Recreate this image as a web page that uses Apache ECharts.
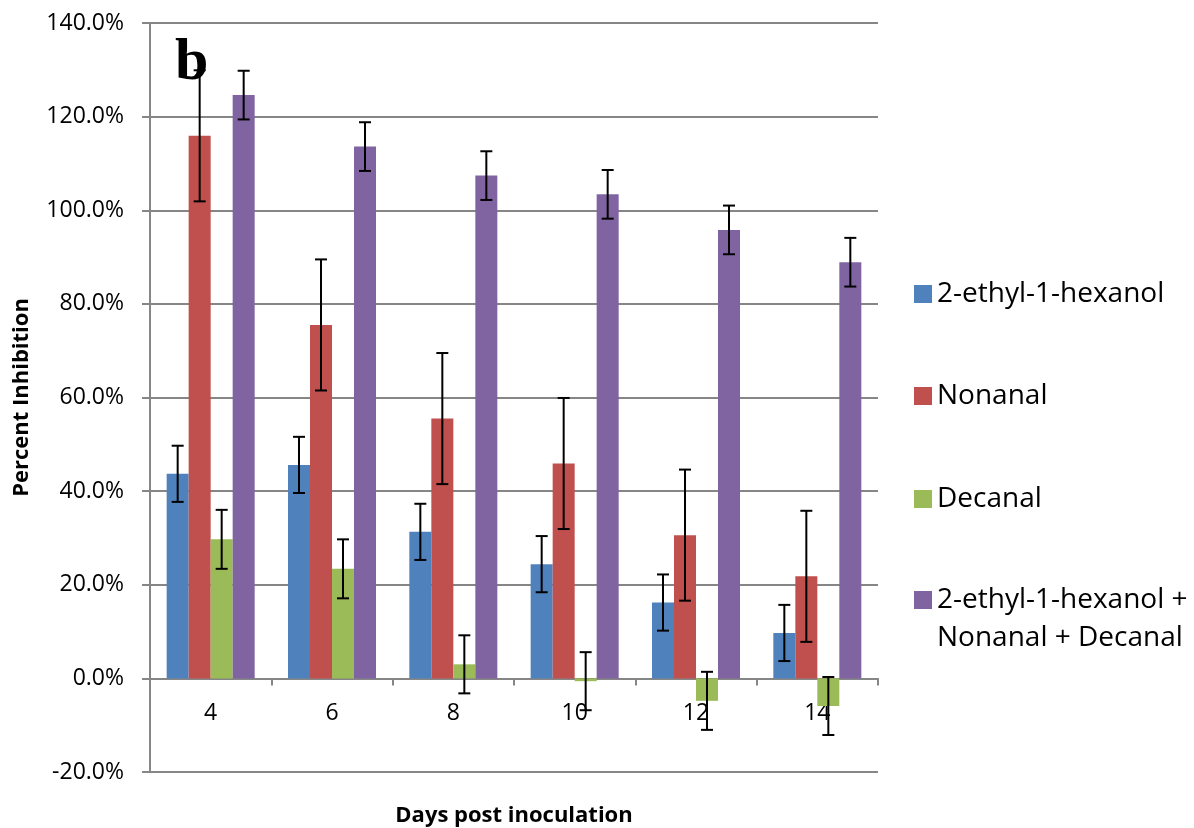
<!DOCTYPE html>
<html>
<head>
<meta charset="utf-8">
<script src="https://cdn.jsdelivr.net/npm/echarts@6/dist/echarts.min.js"></script>
<style>html,body{margin:0;padding:0;background:#fff;}#c{width:1194px;height:828px;}</style>
</head>
<body>
<div id="c"></div>
<script>
var categories = ['4', '6', '8', '10', '12', '14'];
var seriesNames = ['2-ethyl-1-hexanol', 'Nonanal', 'Decanal', '2-ethyl-1-hexanol +\nNonanal + Decanal'];
var hexanol = [43.7, 45.6, 31.3, 24.4, 16.2, 9.7];
var hexanolErr = [6.0, 6.0, 6.0, 6.0, 6.0, 6.0];
var nonanal = [115.9, 75.5, 55.5, 45.9, 30.6, 21.8];
var nonanalErr = [14.0, 14.0, 14.0, 14.0, 14.0, 14.0];
var decanal = [29.7, 23.4, 3.0, -0.6, -4.8, -5.9];
var decanalErr = [6.3, 6.3, 6.2, 6.2, 6.2, 6.2];
var combo = [124.6, 113.6, 107.4, 103.4, 95.8, 88.9];
var comboErr = [5.2, 5.2, 5.2, 5.2, 5.2, 5.2];
var yTicks = { min: -20, max: 140, interval: 20 };

var colors = ['#4F81BD', '#C0504D', '#9BBB59', '#8064A2'];
var values = [hexanol, nonanal, decanal, combo];
var errs = [hexanolErr, nonanalErr, decanalErr, comboErr];
var BAR_W = 22;
var FONT = '"Open Sans", sans-serif';
var GRID = { left: 150, right: 316, top: 23, bottom: 56 };
var CHART_H = 828;

function errData(v, e) {
  return v.map(function (d, i) { return [i, d - e[i], d + e[i]]; });
}
function makeErr(k) {
  return function (params, api) {
    var idx = api.value(0);
    var x = api.coord([idx, 0])[0] + (k - 1.5) * BAR_W;
    var yL = api.coord([idx, api.value(1)])[1];
    var yH = api.coord([idx, api.value(2)])[1];
    var st = { stroke: '#000', lineWidth: 2 };
    var hw = 6;
    return {
      type: 'group',
      children: [
        { type: 'line', shape: { x1: x, y1: yH, x2: x, y2: yL }, style: st },
        { type: 'line', shape: { x1: x - hw, y1: yH, x2: x + hw, y2: yH }, style: st },
        { type: 'line', shape: { x1: x - hw, y1: yL, x2: x + hw, y2: yL }, style: st }
      ]
    };
  };
}

// place the category axis at value 0 (labels follow the line)
var plotH = CHART_H - GRID.top - GRID.bottom;
var zeroOffset = -plotH * (0 - yTicks.min) / (yTicks.max - yTicks.min);

var series = [];
values.forEach(function (v, k) {
  series.push({
    name: seriesNames[k],
    type: 'bar',
    data: v,
    barWidth: BAR_W,
    barGap: '0%',
    itemStyle: { color: colors[k] },
    z: 2
  });
});
values.forEach(function (v, k) {
  series.push({
    type: 'custom',
    name: 'err' + k,
    data: errData(v, errs[k]),
    renderItem: makeErr(k),
    z: 5,
    silent: true
  });
});

var legendTops = [275, 377, 480, 543];
var legends = seriesNames.map(function (n, k) {
  var lg = {
    data: [n],
    orient: 'vertical',
    left: 914,
    top: legendTops[k],
    itemWidth: 18,
    itemHeight: 18,
    padding: 0,
    icon: 'rect',
    selectedMode: false,
    textStyle: { fontFamily: FONT, fontSize: 28, color: '#000', lineHeight: 38 }
  };
  // two-line entry: keep the marker beside the first line
  if (k === 3) lg.formatter = function (name) { return '\n' + name; };
  return lg;
});

var chart = echarts.init(document.getElementById('c'), null, { renderer: 'canvas' });
chart.setOption({
  backgroundColor: '#fff',
  animation: false,
  title: {
    text: 'b',
    left: 175,
    top: 33,
    padding: 0,
    textStyle: { fontFamily: '"Liberation Serif", serif', fontWeight: 'bold', fontSize: 60, color: '#000' }
  },
  legend: legends,
  grid: { left: GRID.left, right: GRID.right, top: GRID.top, bottom: GRID.bottom, containLabel: false, outerBoundsMode: 'none' },
  xAxis: {
    type: 'category',
    data: categories,
    position: 'bottom',
    offset: zeroOffset,
    name: 'Days post inoculation',
    nameLocation: 'middle',
    nameGap: 126,
    nameMoveOverlap: false,
    nameTextStyle: { fontFamily: FONT, fontWeight: 'bold', fontSize: 22, color: '#000' },
    axisLine: { onZero: false, lineStyle: { color: '#868686', width: 2 } },
    axisTick: { show: true, length: 7, alignWithLabel: false, lineStyle: { color: '#868686', width: 2 } },
    axisLabel: { fontFamily: FONT, fontSize: 23, color: '#000', margin: 24 }
  },
  yAxis: {
    type: 'value',
    min: yTicks.min,
    max: yTicks.max,
    interval: yTicks.interval,
    name: 'Percent Inhibition',
    nameLocation: 'middle',
    nameGap: 117,
    nameMoveOverlap: false,
    nameTextStyle: { fontFamily: FONT, fontWeight: 'bold', fontSize: 22, color: '#000' },
    axisLine: { show: true, lineStyle: { color: '#868686', width: 2 } },
    axisTick: { show: true, length: 8, lineStyle: { color: '#868686', width: 2 } },
    axisLabel: {
      fontFamily: FONT, fontSize: 23, color: '#000', margin: 26,
      formatter: function (v) { return v.toFixed(1) + '%'; }
    },
    splitLine: { show: true, lineStyle: { color: '#868686', width: 2 } }
  },
  series: series
});
</script>
</body>
</html>
